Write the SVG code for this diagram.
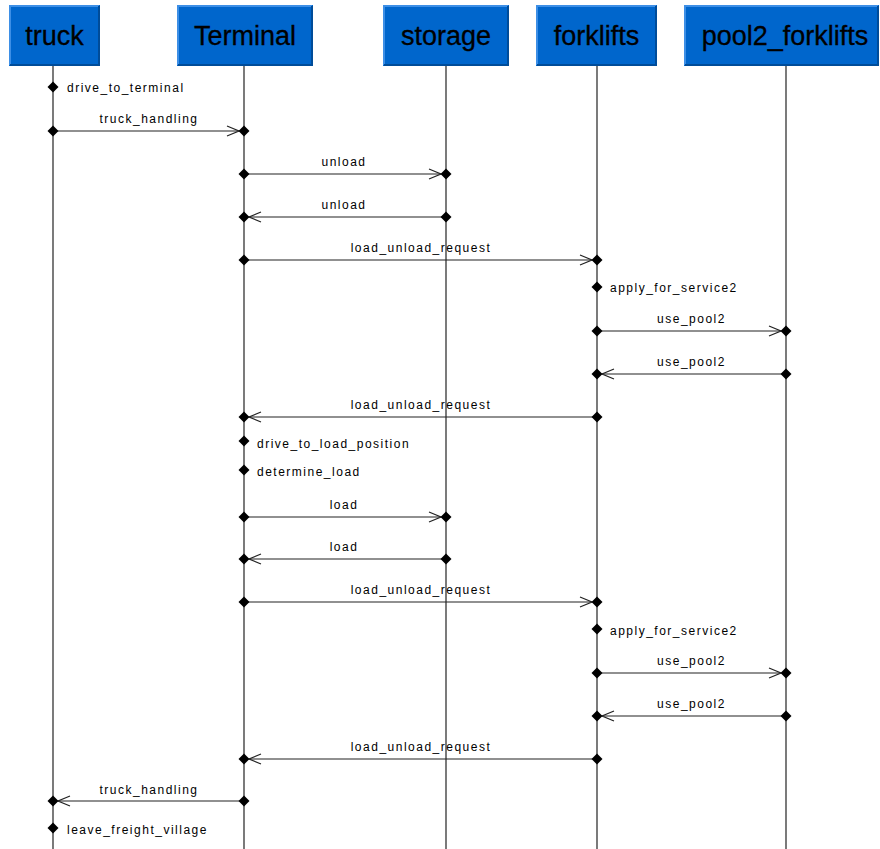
<svg xmlns="http://www.w3.org/2000/svg" width="880" height="849" viewBox="0 0 880 849">
  <style>
    .box { fill: #0066cc; }
    .lt { fill: none; stroke: #3d8fe6; stroke-width: 2; }
    .dk { fill: none; stroke: #004c99; stroke-width: 2; }
    .title { font-family: "Liberation Sans", Arial, sans-serif; font-size: 27px; fill: #000; stroke: #000; stroke-width: 0.3; text-anchor: middle; }
    .life { stroke: #333; stroke-width: 1.3; }
    .msg { stroke: #222; stroke-width: 1.2; fill: none; }
    .lbl { font-family: "Liberation Sans", Arial, sans-serif; font-size: 12px; letter-spacing: 1.5px; fill: #000; }
    .mid { text-anchor: middle; }
  </style>
  <defs>
    <path id="dia" d="M0,-5.5 L5.5,0 L0,5.5 L-5.5,0 Z" fill="#000"/>
    <marker id="open" markerWidth="14" markerHeight="12" refX="13" refY="6" orient="auto" markerUnits="userSpaceOnUse">
      <path d="M1,1 L13,6 L1,11" fill="none" stroke="#222" stroke-width="1.2"/>
    </marker>
  </defs>
  <rect width="880" height="849" fill="#fff"/>

  <!-- lifelines and header boxes -->
  <g id="truck">
    <line class="life" x1="53" y1="66" x2="53" y2="849"/>
    <rect class="box" x="9" y="5" width="91" height="61"/>
    <path class="lt" d="M10,65 V6 H99"/>
    <path class="dk" d="M10,65 H99 V6"/>
    <text class="title" x="54.5" y="45">truck</text>
  </g>
  <g id="Terminal">
    <line class="life" x1="244" y1="66" x2="244" y2="849"/>
    <rect class="box" x="177" y="5" width="136" height="61"/>
    <path class="lt" d="M178,65 V6 H312"/>
    <path class="dk" d="M178,65 H312 V6"/>
    <text class="title" x="245" y="45">Terminal</text>
  </g>
  <g id="storage">
    <line class="life" x1="446" y1="66" x2="446" y2="849"/>
    <rect class="box" x="383" y="5" width="126" height="61"/>
    <path class="lt" d="M384,65 V6 H508"/>
    <path class="dk" d="M384,65 H508 V6"/>
    <text class="title" x="446" y="45">storage</text>
  </g>
  <g id="forklifts">
    <line class="life" x1="597" y1="66" x2="597" y2="849"/>
    <rect class="box" x="536" y="5" width="121" height="61"/>
    <path class="lt" d="M537,65 V6 H656"/>
    <path class="dk" d="M537,65 H656 V6"/>
    <text class="title" x="596.5" y="45">forklifts</text>
  </g>
  <g id="pool2_forklifts">
    <line class="life" x1="786" y1="66" x2="786" y2="849"/>
    <rect class="box" x="684" y="5" width="195" height="61"/>
    <path class="lt" d="M685,65 V6 H878"/>
    <path class="dk" d="M685,65 H878 V6"/>
    <text class="title" x="785" y="45">pool2_forklifts</text>
  </g>

  <!-- messages -->
  <g id="connectors">
    <!-- drive_to_terminal -->
    <use href="#dia" x="53" y="87"/>
    <text class="lbl" x="67" y="92">drive_to_terminal</text>

    <!-- truck_handling -->
    <line class="msg" x1="53" y1="131" x2="239" y2="131" marker-end="url(#open)"/>
    <use href="#dia" x="53" y="131"/><use href="#dia" x="244" y="131"/>
    <text class="lbl mid" x="149" y="123">truck_handling</text>

    <!-- unload -->
    <line class="msg" x1="244" y1="174" x2="441" y2="174" marker-end="url(#open)"/>
    <use href="#dia" x="244" y="174"/><use href="#dia" x="446" y="174"/>
    <text class="lbl mid" x="344" y="166">unload</text>

    <line class="msg" x1="446" y1="217" x2="249" y2="217" marker-end="url(#open)"/>
    <use href="#dia" x="244" y="217"/><use href="#dia" x="446" y="217"/>
    <text class="lbl mid" x="344" y="209">unload</text>

    <!-- load_unload_request -->
    <line class="msg" x1="244" y1="260" x2="592" y2="260" marker-end="url(#open)"/>
    <use href="#dia" x="244" y="260"/><use href="#dia" x="597" y="260"/>
    <text class="lbl mid" x="421" y="252">load_unload_request</text>

    <!-- apply_for_service2 -->
    <use href="#dia" x="597" y="287"/>
    <text class="lbl" x="610" y="292">apply_for_service2</text>

    <!-- use_pool2 -->
    <line class="msg" x1="597" y1="331" x2="781" y2="331" marker-end="url(#open)"/>
    <use href="#dia" x="597" y="331"/><use href="#dia" x="786" y="331"/>
    <text class="lbl mid" x="691.5" y="323">use_pool2</text>

    <line class="msg" x1="786" y1="374" x2="602" y2="374" marker-end="url(#open)"/>
    <use href="#dia" x="597" y="374"/><use href="#dia" x="786" y="374"/>
    <text class="lbl mid" x="691.5" y="366">use_pool2</text>

    <!-- load_unload_request reply -->
    <line class="msg" x1="597" y1="417" x2="249" y2="417" marker-end="url(#open)"/>
    <use href="#dia" x="244" y="417"/><use href="#dia" x="597" y="417"/>
    <text class="lbl mid" x="421" y="409">load_unload_request</text>

    <!-- drive_to_load_position / determine_load -->
    <use href="#dia" x="244" y="441"/>
    <text class="lbl" x="257" y="448">drive_to_load_position</text>
    <use href="#dia" x="244" y="470"/>
    <text class="lbl" x="257" y="476">determine_load</text>

    <!-- load -->
    <line class="msg" x1="244" y1="517" x2="441" y2="517" marker-end="url(#open)"/>
    <use href="#dia" x="244" y="517"/><use href="#dia" x="446" y="517"/>
    <text class="lbl mid" x="344" y="509">load</text>

    <line class="msg" x1="446" y1="559" x2="249" y2="559" marker-end="url(#open)"/>
    <use href="#dia" x="244" y="559"/><use href="#dia" x="446" y="559"/>
    <text class="lbl mid" x="344" y="551">load</text>

    <!-- load_unload_request -->
    <line class="msg" x1="244" y1="602" x2="592" y2="602" marker-end="url(#open)"/>
    <use href="#dia" x="244" y="602"/><use href="#dia" x="597" y="602"/>
    <text class="lbl mid" x="421" y="594">load_unload_request</text>

    <!-- apply_for_service2 -->
    <use href="#dia" x="597" y="629"/>
    <text class="lbl" x="610" y="635">apply_for_service2</text>

    <!-- use_pool2 -->
    <line class="msg" x1="597" y1="673" x2="781" y2="673" marker-end="url(#open)"/>
    <use href="#dia" x="597" y="673"/><use href="#dia" x="786" y="673"/>
    <text class="lbl mid" x="691.5" y="665">use_pool2</text>

    <line class="msg" x1="786" y1="716" x2="602" y2="716" marker-end="url(#open)"/>
    <use href="#dia" x="597" y="716"/><use href="#dia" x="786" y="716"/>
    <text class="lbl mid" x="691.5" y="708">use_pool2</text>

    <!-- load_unload_request reply -->
    <line class="msg" x1="597" y1="759" x2="249" y2="759" marker-end="url(#open)"/>
    <use href="#dia" x="244" y="759"/><use href="#dia" x="597" y="759"/>
    <text class="lbl mid" x="421" y="751">load_unload_request</text>

    <!-- truck_handling reply -->
    <line class="msg" x1="244" y1="801" x2="58" y2="801" marker-end="url(#open)"/>
    <use href="#dia" x="53" y="801"/><use href="#dia" x="244" y="801"/>
    <text class="lbl mid" x="149" y="794">truck_handling</text>

    <!-- leave_freight_village -->
    <use href="#dia" x="53" y="828"/>
    <text class="lbl" x="67" y="834">leave_freight_village</text>
  </g>
</svg>
